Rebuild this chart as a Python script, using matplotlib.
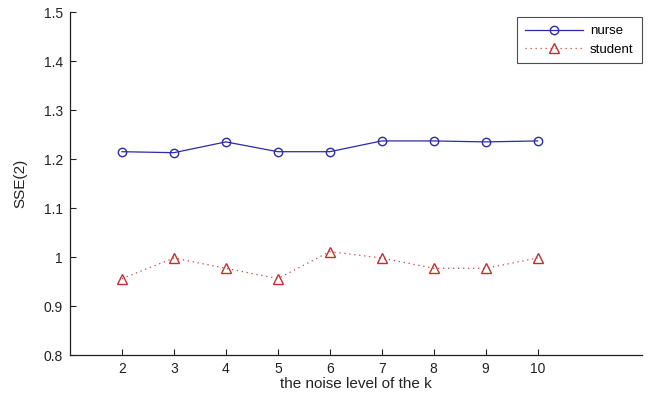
import matplotlib
matplotlib.use("Agg")
import matplotlib.pyplot as plt

k = [2, 3, 4, 5, 6, 7, 8, 9, 10]
nurse = [1.215, 1.213, 1.235, 1.215, 1.215, 1.237, 1.237, 1.235, 1.237]
student = [0.956, 0.998, 0.977, 0.956, 1.011, 0.998, 0.977, 0.977, 0.998]
yticks = [0.8, 0.9, 1.0, 1.1, 1.2, 1.3, 1.4, 1.5]
ytick_labels = ["0.8", "0.9", "1", "1.1", "1.2", "1.3", "1.4", "1.5"]

plt.rcParams['font.family'] = ['Liberation Sans', 'DejaVu Sans']
fig = plt.figure(figsize=(6.48, 3.96), dpi=100)
ax = fig.add_axes([0.108, 0.1035, 0.882, 0.866])

ax.plot(k, nurse, color='#2b2ba8', linestyle='-', linewidth=0.9, marker='o',
        markersize=6, markerfacecolor='none', markeredgecolor='#2b2ba8',
        markeredgewidth=1.0, label='nurse')
ax.plot(k, student, color='#d04040', linestyle=(0, (1, 3)), linewidth=0.9, marker='^',
        markersize=7, markerfacecolor='none', markeredgecolor='#c03030',
        markeredgewidth=1.0, label='student')

ax.set_xlim(1, 12)
ax.set_ylim(0.8, 1.5)
ax.set_xticks(k)
ax.set_xticklabels([str(v) for v in k])
ax.set_yticks(yticks)
ax.set_yticklabels(ytick_labels)
ax.tick_params(direction='in', length=4, width=0.8, labelsize=10, colors='#222222')
ax.tick_params(axis='x', pad=5)
ax.tick_params(axis='y', pad=5)
for s in ['top', 'right']:
    ax.spines[s].set_visible(False)
for s in ['left', 'bottom']:
    ax.spines[s].set_color('#222222')
    ax.spines[s].set_linewidth(0.9)

ax.set_xlabel('the noise level of the k', fontsize=11, labelpad=1, color='#222222')
ax.set_ylabel('SSE(2)', fontsize=11, labelpad=12, color='#222222')

leg = ax.legend(loc='upper right', bbox_to_anchor=(1.0, 0.985), fontsize=9.5,
                frameon=True, fancybox=False, edgecolor='#222222',
                handlelength=4.4, borderpad=0.6, labelspacing=0.45, handletextpad=0.5,
                borderaxespad=0.0)
leg.get_frame().set_linewidth(0.8)

fig.savefig('out.png', dpi=100)
